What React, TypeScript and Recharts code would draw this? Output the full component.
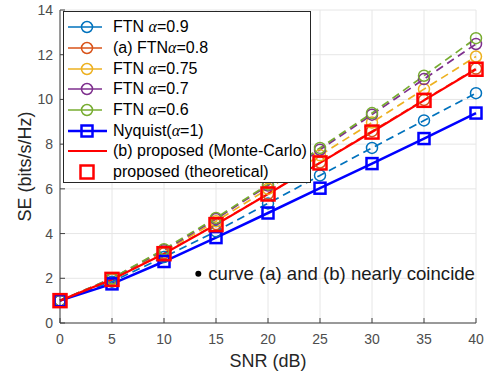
import React from 'react';
import {
  LineChart,
  Line,
  XAxis,
  YAxis,
  CartesianGrid,
  Legend,
  ReferenceDot,
} from 'recharts';

const snr = [0, 5, 10, 15, 20, 25, 30, 35, 40];
const ftn09 = [1.0, 1.85, 2.95, 4.1, 5.35, 6.6, 7.83, 9.06, 10.28];
const ftn08 = [1.0, 1.95, 3.12, 4.42, 5.78, 7.18, 8.58, 9.98, 11.38];
const ftn075 = [1.0, 1.97, 3.2, 4.55, 6.0, 7.5, 8.97, 10.46, 11.92];
const ftn07 = [1.0, 2.0, 3.25, 4.65, 6.15, 7.75, 9.32, 10.91, 12.48];
const ftn06 = [1.0, 2.0, 3.3, 4.7, 6.2, 7.83, 9.39, 11.06, 12.74];
const nyquist = [1.0, 1.75, 2.75, 3.82, 4.92, 6.03, 7.13, 8.25, 9.39];
const proposed = [1.0, 1.95, 3.1, 4.4, 5.77, 7.16, 8.54, 9.96, 11.35];

const xTicks = [0, 5, 10, 15, 20, 25, 30, 35, 40];
const yTicks = [0, 2, 4, 6, 8, 10, 12, 14];

const data = snr.map((s, i) => ({
  snr: s,
  ftn09: ftn09[i],
  ftn08: ftn08[i],
  ftn075: ftn075[i],
  ftn07: ftn07[i],
  ftn06: ftn06[i],
  nyquist: nyquist[i],
  mc: proposed[i],
  theory: proposed[i],
}));

type Marker = 'circle' | 'square' | 'none';
type Series = {
  key: string;
  name: string;
  color: string;
  dashed: boolean;
  line: boolean;
  width: number;
  marker: Marker;
  size: number;
};

const series: Series[] = [
  { key: 'ftn09', name: 'FTN α=0.9', color: '#0072BD', dashed: true, line: true, width: 1.7, marker: 'circle', size: 5.5 },
  { key: 'ftn08', name: '(a) FTNα=0.8', color: '#D95319', dashed: true, line: true, width: 1.7, marker: 'circle', size: 5.5 },
  { key: 'ftn075', name: 'FTN α=0.75', color: '#EDB120', dashed: true, line: true, width: 1.7, marker: 'circle', size: 5.5 },
  { key: 'ftn07', name: 'FTN α=0.7', color: '#7E2F8E', dashed: true, line: true, width: 1.7, marker: 'circle', size: 5.5 },
  { key: 'ftn06', name: 'FTN α=0.6', color: '#77AC30', dashed: true, line: true, width: 1.7, marker: 'circle', size: 5.5 },
  { key: 'nyquist', name: 'Nyquist(α=1)', color: '#0000FF', dashed: false, line: true, width: 2.5, marker: 'square', size: 11 },
  { key: 'mc', name: '(b) proposed (Monte-Carlo)', color: '#FF0000', dashed: false, line: true, width: 2.2, marker: 'none', size: 0 },
  { key: 'theory', name: 'proposed (theoretical)', color: '#FF0000', dashed: false, line: false, width: 2.5, marker: 'square', size: 13 },
];

const FONT = '"Liberation Sans", Arial, Helvetica, sans-serif';

function markerShape(s: Series, cx: number, cy: number, key?: React.Key) {
  if (s.marker === 'circle') {
    return (
      <circle key={key} cx={cx} cy={cy} r={s.size} fill="none" stroke={s.color} strokeWidth={1.5} />
    );
  }
  if (s.marker === 'square') {
    return (
      <rect
        key={key}
        x={cx - s.size / 2}
        y={cy - s.size / 2}
        width={s.size}
        height={s.size}
        fill="none"
        stroke={s.color}
        strokeWidth={s.width}
      />
    );
  }
  return <g key={key} />;
}

function renderName(name: string) {
  const parts = name.split('α');
  return parts.map((p, i) => (
    <React.Fragment key={i}>
      {p}
      {i < parts.length - 1 && (
        <span style={{ fontStyle: 'italic', fontFamily: '"Liberation Serif", serif' }}>α</span>
      )}
    </React.Fragment>
  ));
}

function LegendBox() {
  return (
    <div
      style={{
        boxSizing: 'border-box',
        width: 248,
        height: 172,
        paddingTop: 5,
        border: '1px solid #262626',
        background: '#fff',
        fontFamily: FONT,
        fontSize: 16,
        color: '#000',
      }}
    >
      {series.map((s) => {
        const lineEnd = s.marker === 'circle' ? 38 : 43;
        return (
          <div key={s.key} style={{ display: 'flex', alignItems: 'center', height: 20.7 }}>
            <svg width={46} height={20} style={{ marginRight: 3, flex: 'none' }}>
              {s.line && (
                <line x1={4} x2={lineEnd} y1={10} y2={10} stroke={s.color} strokeWidth={s.width} />
              )}
              {markerShape(s, 23, 10)}
            </svg>
            <span style={{ whiteSpace: 'nowrap' }}>{renderName(s.name)}</span>
          </div>
        );
      })}
    </div>
  );
}

export default function App() {
  return (
    <div
      style={{
        position: 'absolute',
        left: 0,
        top: 0,
        width: 484,
        height: 373,
        background: '#fff',
        fontFamily: FONT,
      }}
    >
      <LineChart
        width={484}
        height={373}
        data={data}
        margin={{ top: 10, right: 8, left: 0, bottom: 5 }}
      >
        <CartesianGrid stroke="#e6e6e6" />
        <XAxis
          dataKey="snr"
          type="number"
          domain={[0, 40]}
          ticks={xTicks}
          interval={0}
          height={45}
          tickSize={-5}
          tickMargin={16}
          stroke="#404040"
          tick={{ fontSize: 14, fill: '#4d4d4d' }}
          label={{ value: 'SNR (dB)', position: 'insideBottom', offset: 1, fontSize: 18, fill: '#262626' }}
        />
        <XAxis
          xAxisId="top"
          orientation="top"
          type="number"
          domain={[0, 40]}
          ticks={xTicks}
          interval={0}
          height={0}
          tickSize={-5}
          tick={false}
          stroke="#404040"
        />
        <YAxis
          type="number"
          domain={[0, 14]}
          ticks={yTicks}
          interval={0}
          width={60}
          tickSize={-5}
          tickMargin={12}
          stroke="#404040"
          tick={{ fontSize: 14, fill: '#4d4d4d' }}
          label={{ value: 'SE (bits/s/Hz)', angle: -90, position: 'center', dx: -5, fontSize: 18, fill: '#262626' }}
        />
        <YAxis
          yAxisId="right"
          orientation="right"
          type="number"
          domain={[0, 14]}
          ticks={yTicks}
          interval={0}
          width={0}
          tickSize={-5}
          tick={false}
          stroke="#404040"
        />
        {series.map((s) => (
          <Line
            key={s.key}
            dataKey={s.key}
            name={s.name}
            stroke={s.line ? s.color : 'none'}
            strokeWidth={s.width}
            strokeDasharray={s.dashed ? '8 5' : undefined}
            dot={(p: any) => markerShape(s, p.cx, p.cy, p.index)}
            activeDot={false}
            isAnimationActive={false}
          />
        ))}
        <ReferenceDot
          x={13.3}
          y={2.2}
          r={3}
          fill="#000"
          stroke="none"
          label={{ value: 'curve (a) and (b) nearly coincide', position: 'right', offset: 7, fontSize: 18.6, fill: '#1a1a1a' }}
        />
        <Legend
          layout="horizontal"
          verticalAlign="middle"
          align="center"
          wrapperStyle={{ left: 63, top: 11, width: 248, height: 172 }}
          content={() => <LegendBox />}
        />
      </LineChart>
    </div>
  );
}
